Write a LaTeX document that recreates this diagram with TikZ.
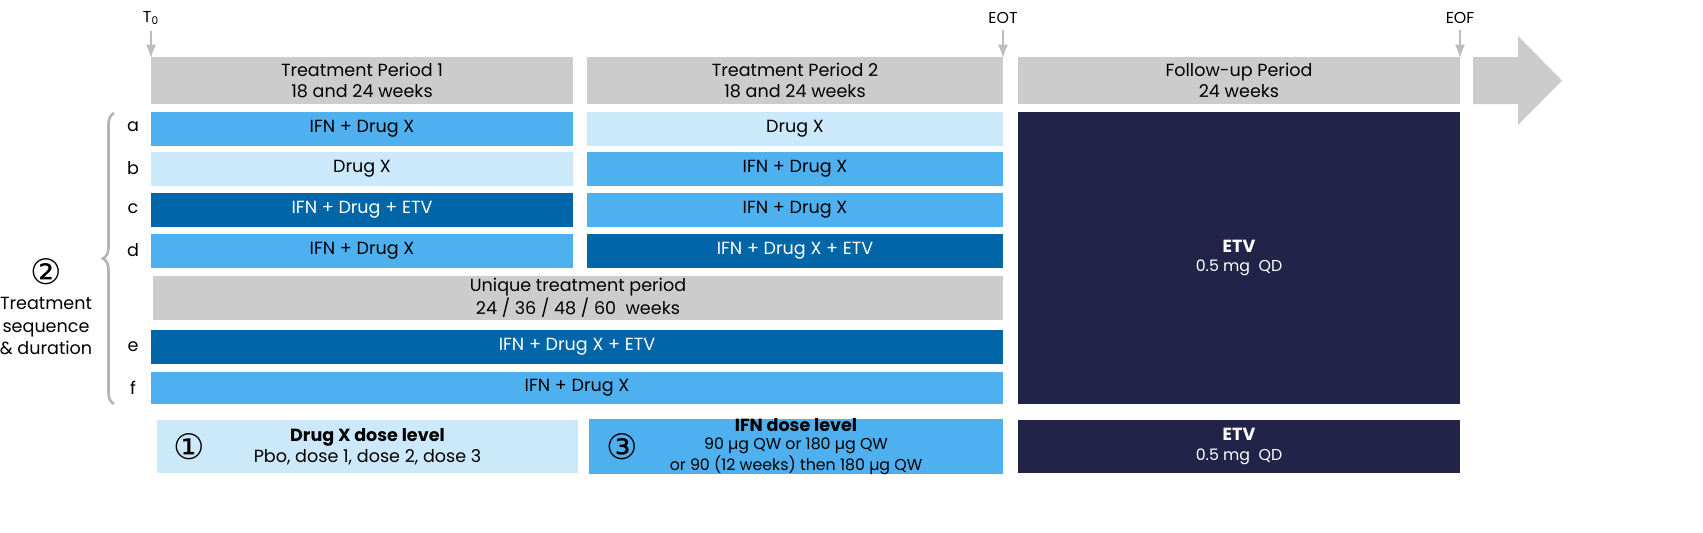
\documentclass[tikz,border=0pt]{standalone}
\usepackage{fontspec}
\setmainfont{Poppins}
\newfontfamily\symfont{DejaVu Sans}
\usetikzlibrary{decorations.pathreplacing}
\definecolor{midblue}{HTML}{4FB0F0}
\definecolor{lightblue}{HTML}{CCE8FB}
\definecolor{darkblue}{HTML}{0066A8}
\definecolor{navy}{HTML}{212348}
\definecolor{lightgray}{HTML}{CCCCCC}

\begin{document}
\begin{tikzpicture}[
x=0.02cm, y=-0.02cm,
bar/.style={inner sep=0pt, align=center, font=\fontsize{10}{12}\selectfont, minimum height=0.68cm},
header/.style={bar, fill=lightgray, minimum height=0.94cm},
pale/.style={bar, fill=lightblue},
mid/.style={bar, fill=midblue},
deep/.style={bar, fill=darkblue, text=white},
marker/.style={-latex, line width=1.6pt, lightgray!80!gray},
letter/.style={font=\fontsize{10}{12}\selectfont}
]
\useasboundingbox (0,0) rectangle (1703,532);

% headers
\node[header, minimum width=8.44cm] (tp1) at (362,80.5) {Treatment Period 1\\18 and 24 weeks};
\node[header, minimum width=8.32cm] (tp2) at (795,80.5) {Treatment Period 2\\18 and 24 weeks};
\node[header, minimum width=8.84cm] (fu) at (1239,80.5) {Follow-up Period\\24 weeks};
\fill[lightgray] (1473,57) -- (1518,57) -- (1518,36) -- (1562,80.5) -- (1518,125) -- (1518,104) -- (1473,104) -- cycle;

% time points
\node[letter, font=\fontsize{9}{10}\selectfont] (t0) at (151,18) {T\textsubscript{0}};
\node[letter, font=\fontsize{9}{10}\selectfont] (eot) at (1003,18) {EOT};
\node[letter, font=\fontsize{9}{10}\selectfont] (eof) at (1460,18) {EOF};
\coordinate (t0end) at (151,58);
\coordinate (eotend) at (1003,58);
\coordinate (eofend) at (1460,58);
\draw[marker] (t0) -- (t0end);
\draw[marker] (eot) -- (eotend);
\draw[marker] (eof) -- (eofend);

% sequences a-d
\node[mid, minimum width=8.44cm] (a1) at (362,128.5) {IFN + Drug X};
\node[pale, minimum width=8.32cm] (a2) at (795,128.5) {Drug X};
\node[pale, minimum width=8.44cm] (b1) at (362,168.5) {Drug X};
\node[mid, minimum width=8.32cm] (b2) at (795,168.5) {IFN + Drug X};
\node[deep, minimum width=8.44cm] (c1) at (362,210) {IFN + Drug + ETV};
\node[mid, minimum width=8.32cm] (c2) at (795,210) {IFN + Drug X};
\node[mid, minimum width=8.44cm] (d1) at (362,251) {IFN + Drug X};
\node[deep, minimum width=8.32cm] (d2) at (795,251) {IFN + Drug X + ETV};

% unique period
\node[header, minimum width=17.0cm, minimum height=0.88cm] (unique) at (578,298) {Unique treatment period\\24 / 36 / 48 / 60~ weeks};
\node[deep, minimum width=17.04cm] (e1) at (577,347) {IFN + Drug X + ETV};
\node[mid, minimum width=17.04cm, minimum height=0.64cm] (f1) at (577,388) {IFN + Drug X};

% follow-up
\node[bar, fill=navy, text=white, minimum width=8.84cm, minimum height=5.84cm] (etv) at (1239,258) {\textbf{ETV}\\[-1pt]{\fontsize{9}{11}\selectfont 0.5 mg~ QD}};

% letters
\foreach \l/\y in {a/127,b/168,c/209,d/250,e/347,f/388}
  \node[letter] (lab\l) at (133,\y) {\l};
\draw[lightgray!70!gray, line width=1.5pt, decorate, decoration={brace, amplitude=0.22cm}] (114,404) -- (114,113);
\node (two) at (46,272) {\symfont\fontsize{20}{20}\selectfont ②};
\node[align=center, font=\fontsize{10}{13}\selectfont, inner sep=0pt] (seq) at (46,326) {Treatment\\sequence\\\& duration};

% dose levels
\node[pale, minimum width=8.42cm, minimum height=1.06cm] (dose1) at (367.5,446.5) {\textbf{Drug X dose level}\\Pbo, dose 1, dose 2, dose 3};
\node (one) at (189,446.5) {\symfont\fontsize{20}{20}\selectfont ①};
\node[mid, minimum width=8.28cm, minimum height=1.06cm, font=\fontsize{9}{10}\selectfont] (dose3) at (796,446.5) {{\fontsize{10}{12}\selectfont\textbf{IFN dose level}}\\90 µg QW or 180 µg QW\\or 90 (12 weeks) then 180 µg QW};
\node (three) at (622,446.5) {\symfont\fontsize{20}{20}\selectfont ③};
\node[bar, fill=navy, text=white, minimum width=8.84cm, minimum height=1.06cm] (etv2) at (1239,446.5) {\textbf{ETV}\\[-1pt]{\fontsize{9}{11}\selectfont 0.5 mg~ QD}};
\end{tikzpicture}
\end{document}
